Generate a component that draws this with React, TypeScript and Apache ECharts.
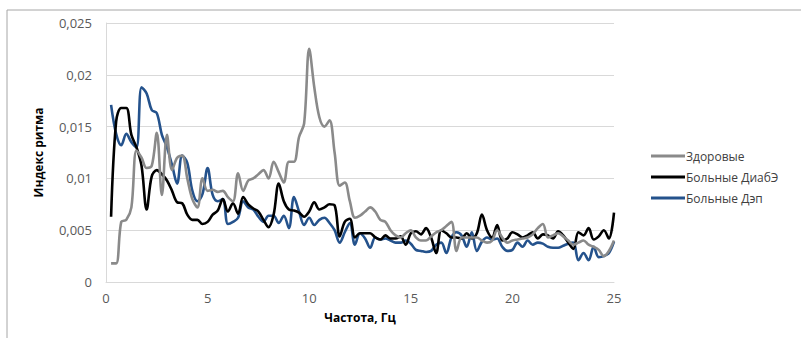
import React, { useEffect, useRef } from "react";
import * as echarts from "echarts";

const frequencies: number[] = Array.from({ length: 100 }, (_, i) => (i + 1) * 0.25);

const healthy: number[] = [
  0.0018, 0.0018, 0.0058, 0.006, 0.0072, 0.0127, 0.012, 0.011, 0.0112, 0.0144,
  0.0084, 0.0142, 0.0108, 0.012, 0.0122, 0.01, 0.008, 0.0072, 0.01, 0.0088,
  0.0089, 0.0087, 0.0088, 0.0082, 0.0078, 0.0105, 0.0088, 0.0098, 0.01, 0.0104,
  0.0108, 0.01, 0.0116, 0.0106, 0.0096, 0.0116, 0.0116, 0.014, 0.0153, 0.0225,
  0.0188, 0.0159, 0.015, 0.0156, 0.0125, 0.0093, 0.0096, 0.0078, 0.0062, 0.0064,
  0.0068, 0.0072, 0.0068, 0.006, 0.0058, 0.005, 0.0045, 0.0043, 0.0047, 0.005,
  0.0043, 0.004, 0.004, 0.0044, 0.0048, 0.005, 0.0054, 0.0058, 0.003, 0.0043,
  0.0043, 0.0043, 0.0043, 0.004, 0.0038, 0.004, 0.005, 0.0043, 0.0038, 0.004,
  0.0041, 0.0042, 0.0043, 0.0046, 0.0052, 0.0056, 0.0043, 0.0045, 0.0047, 0.0044,
  0.004, 0.0036, 0.0038, 0.004, 0.0036, 0.0034, 0.0031, 0.0025, 0.003, 0.004,
];

const diabe: number[] = [
  0.0063, 0.0155, 0.0168, 0.0168, 0.0142, 0.013, 0.0112, 0.007, 0.0102, 0.0108,
  0.0104, 0.0098, 0.0088, 0.0077, 0.0076, 0.0065, 0.006, 0.006, 0.0056, 0.0058,
  0.0065, 0.0069, 0.008, 0.0068, 0.0076, 0.0066, 0.0082, 0.0075, 0.0071, 0.0068,
  0.006, 0.0053, 0.0065, 0.0095, 0.0078, 0.007, 0.0069, 0.0067, 0.0063, 0.0068,
  0.0077, 0.007, 0.0072, 0.0075, 0.0074, 0.0044, 0.0058, 0.0061, 0.0043, 0.0047,
  0.0047, 0.0047, 0.0043, 0.0041, 0.0045, 0.0042, 0.0042, 0.0044, 0.0036, 0.0047,
  0.0049, 0.0046, 0.0052, 0.0043, 0.0028, 0.005, 0.0047, 0.0043, 0.0043, 0.0042,
  0.0047, 0.0042, 0.0047, 0.0065, 0.005, 0.0043, 0.0055, 0.004, 0.0042, 0.0048,
  0.0046, 0.0043, 0.0045, 0.0048, 0.0042, 0.0046, 0.0045, 0.0042, 0.0049, 0.0045,
  0.0038, 0.0032, 0.0048, 0.0045, 0.0052, 0.0041, 0.0044, 0.005, 0.0042, 0.0067,
];

const dep: number[] = [
  0.0171, 0.0143, 0.0132, 0.0143, 0.0135, 0.013, 0.0188, 0.0182, 0.0166, 0.0163,
  0.0142, 0.013, 0.0113, 0.0095, 0.0122, 0.0115, 0.0088, 0.0078, 0.0085, 0.011,
  0.0084, 0.0078, 0.008, 0.0056, 0.0058, 0.0062, 0.0078, 0.0072, 0.007, 0.0063,
  0.0058, 0.0064, 0.0064, 0.0057, 0.0064, 0.0052, 0.0082, 0.0068, 0.0055, 0.0062,
  0.0055, 0.006, 0.0062, 0.0057, 0.005, 0.0038, 0.0048, 0.0057, 0.0036, 0.0047,
  0.0042, 0.0033, 0.0043, 0.0041, 0.0042, 0.004, 0.0038, 0.0038, 0.004, 0.0037,
  0.0031, 0.003, 0.0029, 0.003, 0.0036, 0.0038, 0.0028, 0.0043, 0.0048, 0.0045,
  0.0034, 0.0048, 0.003, 0.0039, 0.0043, 0.0041, 0.0042, 0.0034, 0.003, 0.0031,
  0.0038, 0.0034, 0.004, 0.0036, 0.0038, 0.0037, 0.0034, 0.0033, 0.0033, 0.0035,
  0.0037, 0.0038, 0.0021, 0.0028, 0.0021, 0.0034, 0.0024, 0.0025, 0.0028, 0.0039,
];

const seriesNames = ["Здоровые", "Больные ДиабЭ", "Больные Дэп"];
const seriesColors = ["#8a8a8a", "#000000", "#24528c"];
const xTitle = "Частота, Гц";
const yTitle = "Индекс ритма";

const pairs = (vals: number[]) => vals.map((v, i) => [frequencies[i], v]);

export default function App() {
  const ref = useRef<HTMLDivElement>(null);
  useEffect(() => {
    if (!ref.current) return;
    const chart = echarts.init(ref.current, null, { renderer: "svg" });
    const font = "'Open Sans', 'Liberation Sans', sans-serif";
    const allData = [healthy, diabe, dep];
    chart.setOption({
      animation: false,
      backgroundColor: "#ffffff",
      textStyle: { fontFamily: font },
      grid: { left: 106, right: 187, top: 23, bottom: 56, containLabel: false },
      graphic: [
        { type: "line", shape: { x1: 7, y1: 10, x2: 801, y2: 10 }, style: { stroke: "#a6a6a6", lineWidth: 1 } },
        { type: "line", shape: { x1: 7, y1: 10, x2: 7, y2: 338 }, style: { stroke: "#a6a6a6", lineWidth: 1 } },
      ],
      legend: {
        orient: "vertical",
        left: 646,
        top: 145,
        itemWidth: 34,
        itemHeight: 3,
        itemGap: 9,
        icon: "rect",
        textStyle: { fontSize: 12, color: "#404040", fontFamily: font, padding: [0, 0, 0, -4] },
        data: seriesNames,
      },
      xAxis: {
        type: "value",
        min: 0,
        max: 25,
        interval: 5,
        name: xTitle,
        nameLocation: "middle",
        nameGap: 29,
        nameTextStyle: { fontSize: 12, fontWeight: "bold", color: "#000000" },
        axisLine: { show: true, lineStyle: { color: "#d9d9d9", width: 1 } },
        axisTick: { show: false },
        axisLabel: { fontSize: 13, color: "#595959", margin: 9 },
        splitLine: { show: false },
      },
      yAxis: {
        type: "value",
        min: 0,
        max: 0.025,
        interval: 0.005,
        name: yTitle,
        nameLocation: "middle",
        nameGap: 62,
        nameRotate: 90,
        nameTextStyle: { fontSize: 12, fontWeight: "bold", color: "#000000" },
        axisLine: { show: true, lineStyle: { color: "#d9d9d9", width: 1 } },
        axisTick: { show: false },
        axisLabel: {
          fontSize: 13,
          color: "#595959",
          margin: 14,
          formatter: (v: number) => parseFloat(v.toFixed(4)).toString().replace(".", ","),
        },
        splitLine: { show: true, lineStyle: { color: "#d9d9d9", width: 1 } },
      },
      series: seriesNames.map((name, i) => ({
        name,
        type: "line",
        data: pairs(allData[i]),
        smooth: 0.35,
        symbol: "none",
        lineStyle: { color: seriesColors[i], width: 2.6 },
        itemStyle: { color: seriesColors[i] },
        z: 3 - i,
      })),
    });
    return () => chart.dispose();
  }, []);
  return (
    <div style={{ position: "fixed", left: 0, top: 0, width: 801, height: 338, background: "#fff" }}>
      <div ref={ref} style={{ width: 801, height: 338 }} />
    </div>
  );
}
